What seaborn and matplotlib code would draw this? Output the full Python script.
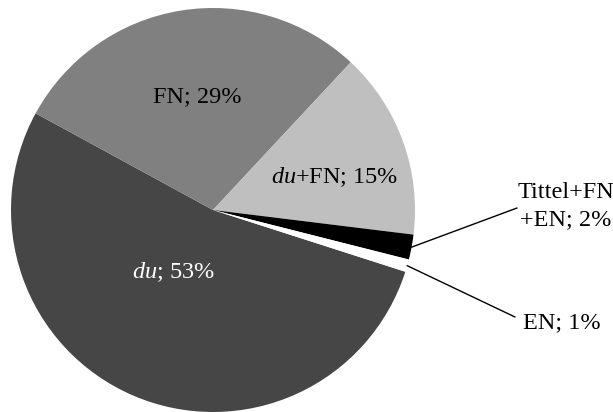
import numpy as np
import matplotlib
matplotlib.use('Agg')
import matplotlib.pyplot as plt
import seaborn as sns

sns.set_theme(style='white')
plt.rcParams.update({
    'font.family': ['Liberation Serif', 'DejaVu Serif'],
    'mathtext.fontset': 'custom',
    'mathtext.rm': 'Liberation Serif',
    'mathtext.it': 'Liberation Serif:italic',
})

# data (clockwise order)
labels = [r'$\mathit{du}$; 53%', 'FN; 29%', r'$\mathit{du}$+FN; 15%',
          'Tittel+FN\n+EN; 2%', 'EN; 1%']
shares = [53, 29, 15, 2, 1]
colors = ['#464646', '#808080', '#bfbfbf', '#000000', '#ffffff']
text_colors = ['white', 'black', 'black', 'black', 'black']

fig = plt.figure(figsize=(6.13, 4.12), dpi=100)
ax = fig.add_axes([0, 0, 1, 1])

cx, cy, r = 213, 202, 202
wedges, _ = ax.pie(shares, colors=colors, startangle=-17.8, counterclock=False,
                   center=(cx, cy), radius=r,
                   wedgeprops=dict(linewidth=0))

# label positions (pixels, y up)
inside_pos = [(173, 140), (197, 315), (335, 235)]
outside_pos = [(566, 206), (562, 89)]
line_end = [(517, 204), (515, 95)]

for i, (x, y) in enumerate(inside_pos):
    ax.text(x, y, labels[i], ha='center', va='center', fontsize=17.5,
            color=text_colors[i])

for k, i in enumerate([3, 4]):
    w = wedges[i]
    mid = np.deg2rad((w.theta1 + w.theta2) / 2)
    sx, sy = cx + r * np.cos(mid), cy + r * np.sin(mid)
    ex, ey = line_end[k]
    ax.plot([sx, ex], [sy, ey], color='black', linewidth=1)
    ax.text(outside_pos[k][0], outside_pos[k][1], labels[i], ha='center',
            va='center', fontsize=17.5, color='black', linespacing=1.35)

ax.set_xlim(0, 613)
ax.set_ylim(0, 412)
ax.set_aspect('equal')
ax.axis('off')

fig.savefig('out.png', dpi=100)
